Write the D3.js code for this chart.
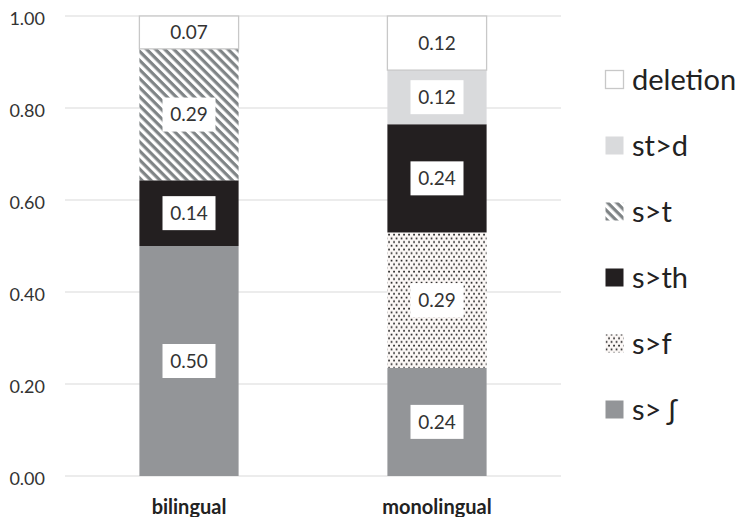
<!DOCTYPE html>
<html><head><meta charset="utf-8">
<script src="https://cdn.jsdelivr.net/npm/d3@7"></script>
<style>body{margin:0;background:#fff}svg{display:block}text{font-family:Lato,"Open Sans",sans-serif}</style>
</head><body><svg id="c" width="743" height="517"></svg>
<script>
const categories = ["bilingual", "monolingual"];
const seriesNames = ["s> ʃ", "s>f", "s>th", "s>t", "st>d", "deletion"];
const valSh = [7/14, 4/17];
const valF = [0, 5/17];
const valTh = [2/14, 4/17];
const valT = [4/14, 0];
const valStD = [0, 2/17];
const valDel = [1/14, 2/17];
const labelSh = ["0.50", "0.24"];
const labelF = ["", "0.29"];
const labelTh = ["0.14", "0.24"];
const labelT = ["0.29", ""];
const labelStD = ["", "0.12"];
const labelDel = ["0.07", "0.12"];
const yTicks = [0, 0.2, 0.4, 0.6, 0.8, 1.0];

const seriesVals = [valSh, valF, valTh, valT, valStD, valDel];
const seriesLabels = [labelSh, labelF, labelTh, labelT, labelStD, labelDel];

const svg = d3.select("#c");
const defs = svg.append("defs");
const P = 6.4;
const stripe = defs.append("pattern").attr("id","stripe").attr("patternUnits","userSpaceOnUse")
  .attr("width",P).attr("height",P).attr("patternTransform","rotate(45)");
stripe.append("rect").attr("width",P).attr("height",P).attr("fill","#fff");
stripe.append("rect").attr("width",P).attr("height",P*0.5).attr("fill","#7f8486");
const dots = defs.append("pattern").attr("id","dots").attr("patternUnits","userSpaceOnUse")
  .attr("width",5).attr("height",7.4);
dots.append("rect").attr("width",5).attr("height",7.4).attr("fill","#fcf8f6");
dots.append("rect").attr("x",0.7).attr("y",0.7).attr("width",1.7).attr("height",1.7).attr("fill","#222");
dots.append("rect").attr("x",3.2).attr("y",4.4).attr("width",1.7).attr("height",1.7).attr("fill","#222");

const fills = ["#939598", "url(#dots)", "#231f20", "url(#stripe)", "#d9dadc", "#ffffff"];
const strokes = [null, null, null, null, null, "#c8c8c8"];

const x = d3.scaleBand().domain(categories).range([65, 561]).paddingInner(0.6).paddingOuter(0.3);
const y = d3.scaleLinear().domain([0, 1]).range([476, 16]);

// grid
svg.append("g").selectAll("line").data(yTicks).join("line")
  .attr("x1",65).attr("x2",561).attr("y1",d=>y(d)).attr("y2",d=>y(d))
  .attr("stroke","#d9d9d9").attr("stroke-width",1.2);

const yAxis = svg.append("g").attr("transform","translate(45,0)")
  .call(d3.axisLeft(y).tickValues(yTicks).tickFormat(d3.format(".2f")).tickSize(0).tickPadding(0));
yAxis.select(".domain").remove();
yAxis.selectAll("text").attr("font-size",18).attr("fill","#333").attr("dy","0.45em")
  .style("font-family","Lato,sans-serif");

const xAxis = svg.append("g").attr("transform","translate(0,476)")
  .call(d3.axisBottom(x).tickSize(0).tickPadding(24));
xAxis.select(".domain").remove();
xAxis.selectAll("text").attr("font-size",20).attr("font-weight","bold").attr("fill","#222")
  .style("font-family","Lato,sans-serif");

// stack
const rows = categories.map((c,i)=>{const o={cat:c}; seriesNames.forEach((s,j)=>o[s]=seriesVals[j][i]); return o;});
const stack = d3.stack().keys(seriesNames)(rows);
stack.forEach((layer,j)=>{
  const g = svg.append("g");
  g.selectAll("rect").data(layer.filter(d=>d[1]-d[0]>0)).join("rect")
    .attr("x",d=>x(d.data.cat)).attr("width",x.bandwidth())
    .attr("y",d=>y(d[1])).attr("height",d=>y(d[0])-y(d[1]))
    .attr("fill",fills[j])
    .attr("stroke",strokes[j]).attr("stroke-width",strokes[j]?1.3:0);
});
stack.forEach((layer,j)=>{
  const g = svg.append("g");
  layer.forEach((d,i)=>{
    const lab = seriesLabels[j][i];
    if(!lab) return;
    const cx = x(d.data.cat)+x.bandwidth()/2, cy=(y(d[0])+y(d[1]))/2;
    if(j<5) g.append("rect").attr("x",cx-26.5).attr("y",cy-17).attr("width",53).attr("height",34).attr("fill","#fff");
    g.append("text").attr("x",cx).attr("y",cy).attr("dy","0.36em").attr("text-anchor","middle")
      .attr("font-size",19).attr("fill","#333").text(lab);
  });
});

// legend
const legOrder = seriesNames.slice().reverse();
const leg = svg.append("g");
legOrder.forEach((s,k)=>{
  const j = seriesNames.indexOf(s);
  const cy = 80 + k*66;
  leg.append("rect").attr("x",605.5).attr("y",cy-9.5).attr("width",18).attr("height",18)
    .attr("fill",fills[j]).attr("stroke",strokes[j]).attr("stroke-width",strokes[j]?1.3:0);
  leg.append("text").attr("x",632).attr("y",cy).attr("dy","0.36em").attr("font-size",29)
    .attr("fill","#222").text(s);
});
</script></body></html>
